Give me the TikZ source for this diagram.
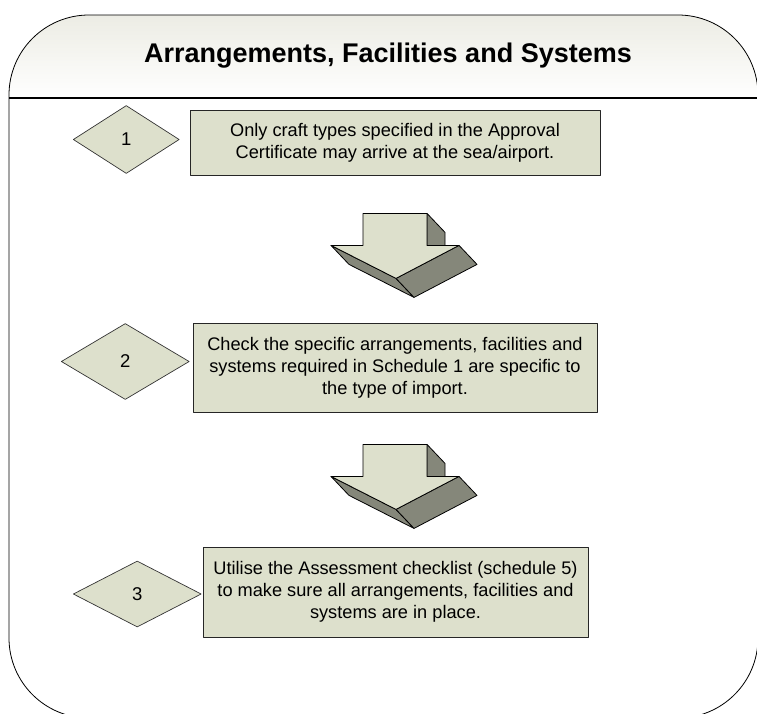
\documentclass[tikz,border=0pt]{standalone}
\usepackage{fontspec}
\setmainfont{Liberation Sans}
\usetikzlibrary{shapes.geometric,positioning}

\definecolor{sage}{HTML}{DDE0CC}
\definecolor{sagedark}{HTML}{85877A}
\definecolor{headgray}{HTML}{ECECE4}

\tikzset{
	%Define style for the step boxes
	stepbox/.style={
		rectangle,
		draw=black!85, line width=0.8pt,
		fill=sage,
		inner sep=0pt,
		align=center,
		font=\fontsize{18.2}{22}\selectfont},
	%Define style for the step numbers
	stepnum/.style={
		diamond,
		draw=black!80, line width=0.7pt,
		fill=sage,
		inner sep=0pt,
		font=\fontsize{18.5}{20}\selectfont},
	% Define the block arrow between steps
	downarrow/.pic={
		\filldraw[fill=sagedark] (64,0) -- (82,19) -- (82,32) -- (64,32) -- cycle;
		\filldraw[fill=sagedark] (-32,32) -- (-14,51) -- (51,84) -- (33,65) -- cycle;
		\filldraw[fill=sagedark] (96,32) -- (114,51) -- (51,84) -- (33,65) -- cycle;
		\filldraw[fill=sage] (0,0) -- (64,0) -- (64,32) -- (96,32) -- (33,65) -- (-32,32) -- (0,32) -- cycle;
	}
}

\begin{document}
\begin{tikzpicture}[x=1pt, y=-1pt, line join=round, line width=0.8pt]
	
	\useasboundingbox (0,0) rectangle (757,713);
	
	% header band
	\begin{scope}
		\clip[rounded corners=80pt] (9,15) rectangle (758,718);
		\shade[top color=headgray, bottom color=white] (9,15) rectangle (758,98);
	\end{scope}
	\draw[rounded corners=80pt] (9,15) rectangle (758,718);
	\draw[line width=1.4pt] (9,98) -- (758,98);
	
	\node[font=\fontsize{27}{30}\selectfont\bfseries] (title) at (388,56) {Arrangements, Facilities and Systems};
	
	\node[stepbox, minimum width=410pt, minimum height=65pt] (box1) at (395,142.5)
		{Only craft types specified in the Approval\\Certificate may arrive at the sea/airport.};
	\node[stepbox, minimum width=404pt, minimum height=89pt] (box2) at (395,367.5)
		{Check the specific arrangements, facilities and\\systems required in Schedule 1 are specific to\\the type of import.};
	\node[stepbox, minimum width=385pt, minimum height=90pt] (box3) at (395.5,592)
		{Utilise the Assessment checklist (schedule 5)\\to make sure all arrangements, facilities and\\systems are in place.};
	
	\node[stepnum, minimum width=106pt, minimum height=68pt, left=10pt of box1, yshift=3pt] (num1) {1};
	\node[stepnum, minimum width=128pt, minimum height=76pt, left=3pt of box2, yshift=6pt] (num2) {2};
	\node[stepnum, minimum width=128pt, minimum height=66pt, left=1pt of box3, yshift=-2pt] (num3) {3};
	
	\pic at ([xshift=-32pt, yshift=-38pt]box1.south) {downarrow};
	\pic at ([xshift=-32pt, yshift=-32pt]box2.south) {downarrow};
	
\end{tikzpicture}
\end{document}
